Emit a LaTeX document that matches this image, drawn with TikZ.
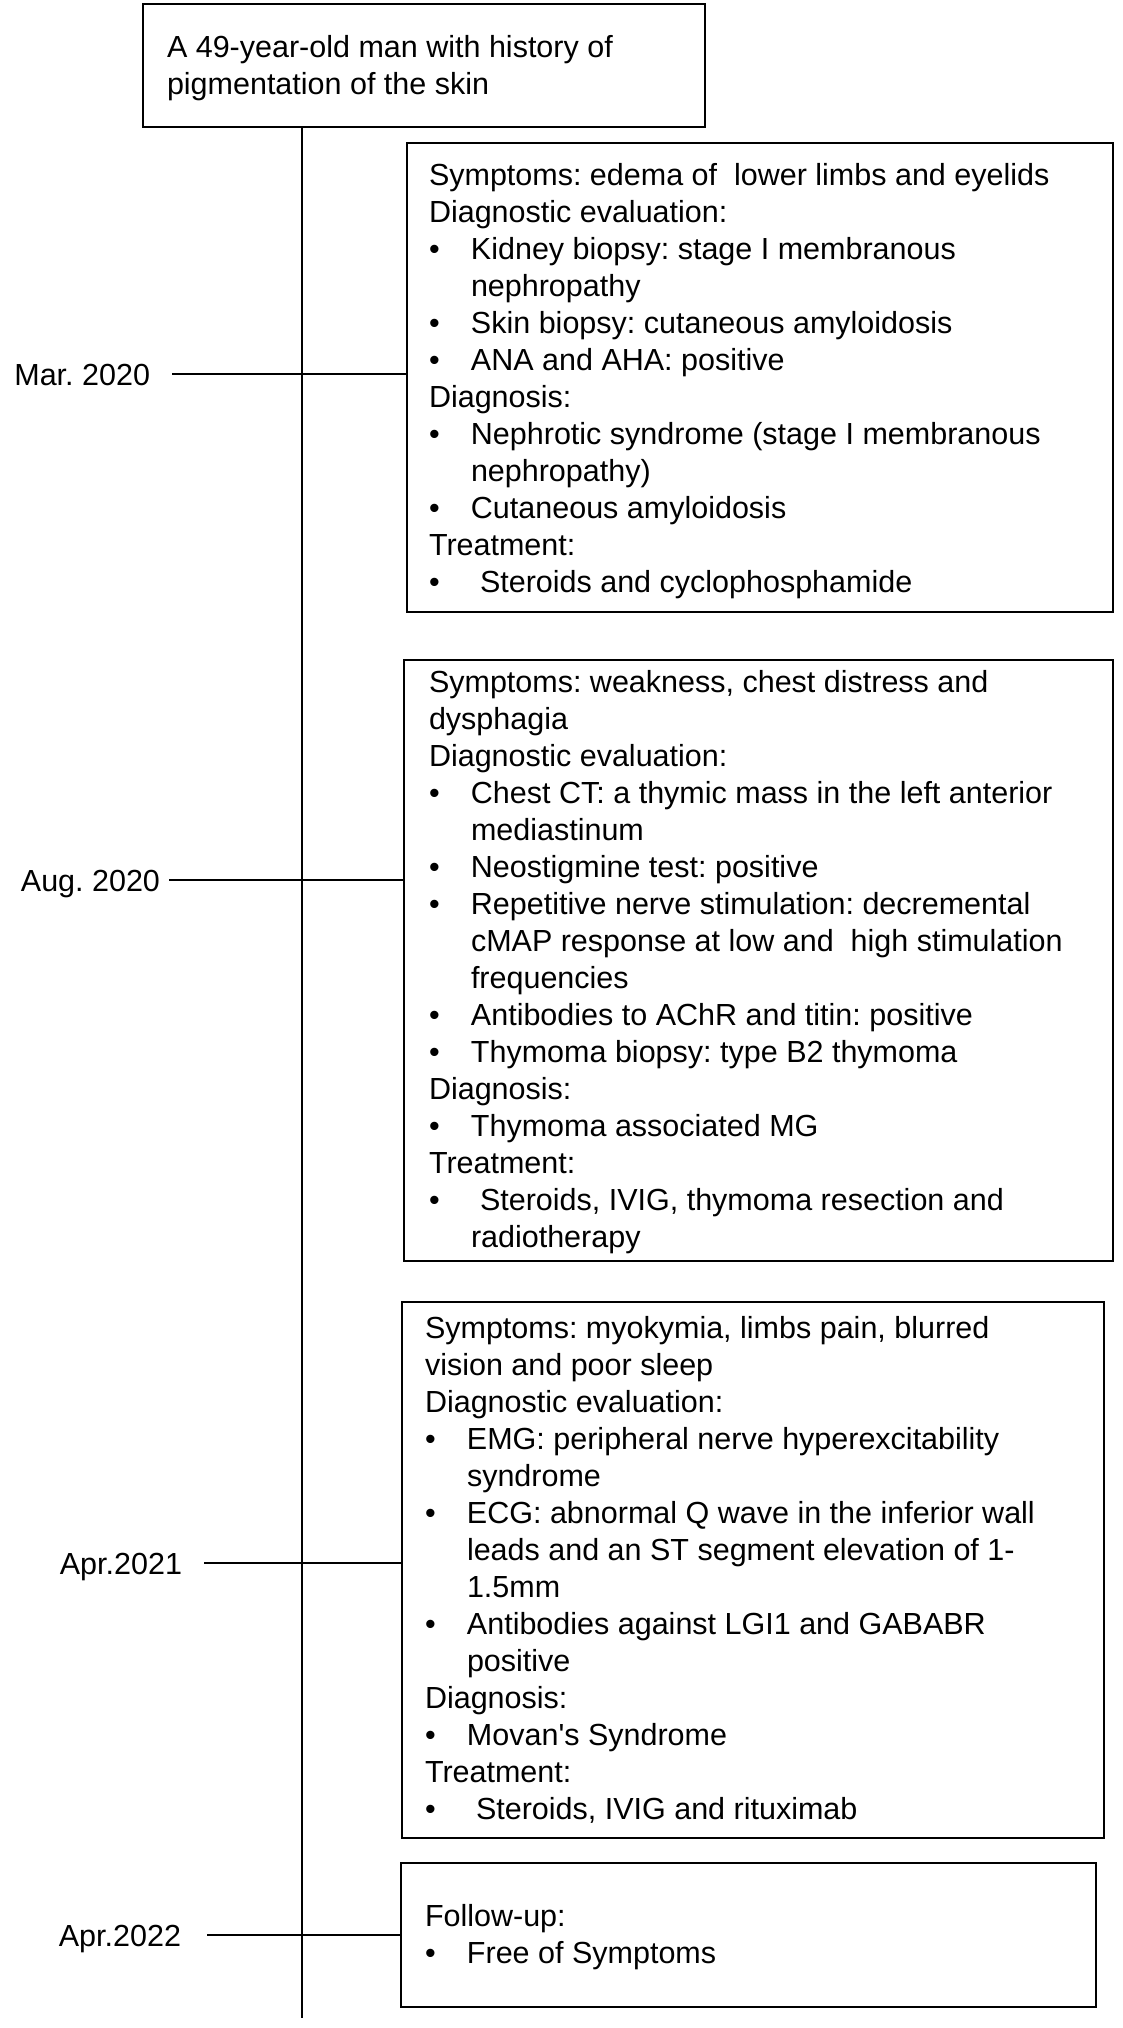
\documentclass[tikz,border=0pt]{standalone}
\usepackage{fontspec}
\setmainfont{Liberation Sans}
\newcommand{\bul}[1]{\makebox[42pt][l]{•}#1}
\newcommand{\bulx}[1]{\makebox[51pt][l]{•}#1}
\newcommand{\cont}[1]{\hspace*{42pt}#1}
\tikzset{
  boxstyle/.style={draw, line width=2.4pt, inner sep=0pt, outer sep=0pt, anchor=north west},
  txt/.style={inner sep=0pt, outer sep=0pt, anchor=north west, align=left, font=\fontsize{30.5}{37}\selectfont\frenchspacing},
  datelbl/.style={inner sep=0pt, outer sep=0pt, anchor=base east, font=\fontsize{30.5}{37}\selectfont\frenchspacing},
  conn/.style={line width=2.2pt},
}
\begin{document}
\frenchspacing
\begin{tikzpicture}[x=1pt,y=-1pt]
\useasboundingbox[fill=white] (0,0) rectangle (1122,2028);

% boxes
\node[boxstyle, minimum width=562pt, minimum height=123pt] (top) at (143,4) {};
\node[boxstyle, minimum width=706pt, minimum height=469pt] (b1) at (407,143) {};
\node[boxstyle, minimum width=709pt, minimum height=601pt] (b2) at (404,660) {};
\node[boxstyle, minimum width=702pt, minimum height=536pt] (b3) at (402,1302) {};
\node[boxstyle, minimum width=695pt, minimum height=144pt] (b5) at (401,1863) {};

% texts
\node[txt] (toptxt) at (167,32.1) {\strut A 49-year-old man with history of\\pigmentation of the skin};

\node[txt] (b1t) at (429,159.1) {\strut Symptoms: edema of~ lower limbs and eyelids\\
Diagnostic evaluation:\\
\bul{Kidney biopsy: stage I membranous}\\
\cont{nephropathy}\\
\bul{Skin biopsy: cutaneous amyloidosis}\\
\bul{ANA and AHA: positive}\\
Diagnosis:\\
\bul{Nephrotic syndrome (stage I membranous}\\
\cont{nephropathy)}\\
\bul{Cutaneous amyloidosis}\\
Treatment:\\
\bulx{Steroids and cyclophosphamide}};

\node[txt] (b2t) at (429,666.1) {\strut Symptoms: weakness, chest distress and\\
dysphagia\\
Diagnostic evaluation:\\
\bul{Chest CT: a thymic mass in the left anterior}\\
\cont{mediastinum}\\
\bul{Neostigmine test: positive}\\
\bul{Repetitive nerve stimulation: decremental}\\
\cont{cMAP response at low and~ high stimulation}\\
\cont{frequencies}\\
\bul{Antibodies to AChR and titin: positive}\\
\bul{Thymoma biopsy: type B2 thymoma}\\
Diagnosis:\\
\bul{Thymoma associated MG}\\
Treatment:\\
\bulx{Steroids, IVIG, thymoma resection and}\\
\cont{radiotherapy}};

\node[txt] (b3t) at (425,1312.1) {\strut Symptoms: myokymia, limbs pain, blurred\\
vision and poor sleep\\
Diagnostic evaluation:\\
\bul{EMG: peripheral nerve hyperexcitability}\\
\cont{syndrome}\\
\bul{ECG: abnormal Q wave in the inferior wall}\\
\cont{leads and an ST segment elevation of 1-}\\
\cont{1.5mm}\\
\bul{Antibodies against LGI1 and GABABR}\\
\cont{positive}\\
Diagnosis:\\
\bul{Movan\textquotesingle s Syndrome}\\
Treatment:\\
\bulx{Steroids, IVIG and rituximab}};

\node[txt] (b5t) at (425,1900.1) {\strut Follow-up:\\
\bul{Free of Symptoms}};

% date labels
\node[datelbl] (l1) at (150,385) {Mar. 2020};
\node[datelbl] (l2) at (160,891) {Aug. 2020};
\node[datelbl] (l3) at (182,1574) {Apr.2021};
\node[datelbl] (l4) at (181,1946) {Apr.2022};

% timeline
\coordinate (tlend) at (302,2018);
\draw[conn] (top.south -| tlend) -- (tlend);

% ticks
\coordinate (t1) at (172,374);
\coordinate (t2) at (169,880);
\coordinate (t3) at (204,1563);
\coordinate (t4) at (207,1935);
\draw[conn] (t1) -- (t1 -| b1.west);
\draw[conn] (t2) -- (t2 -| b2.west);
\draw[conn] (t3) -- (t3 -| b3.west);
\draw[conn] (t4) -- (t4 -| b5.west);
\end{tikzpicture}
\end{document}
